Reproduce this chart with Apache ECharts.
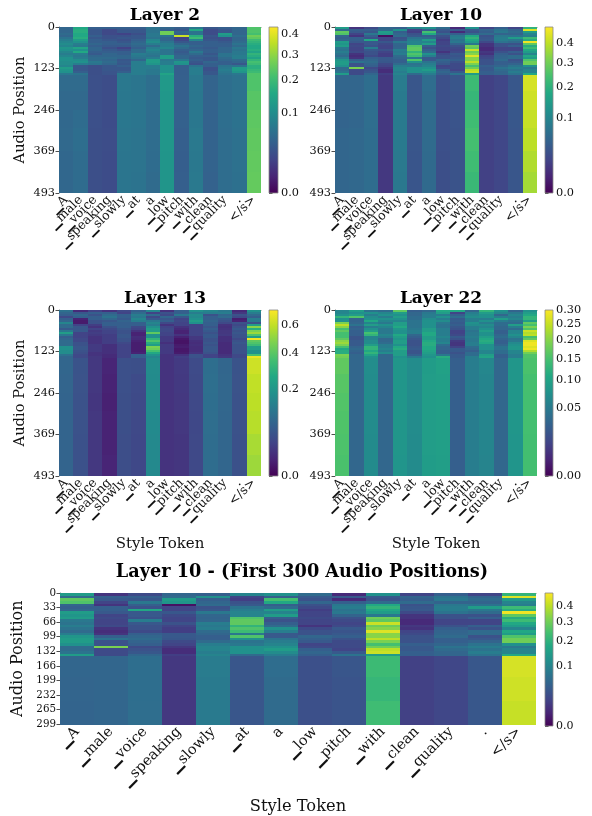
<!DOCTYPE html>
<html><head><meta charset="utf-8">
<style>html,body{margin:0;padding:0;background:#fff}#c{width:592px;height:816px}</style>
<script src="https://cdn.jsdelivr.net/npm/echarts@6/dist/echarts.min.js"></script>
</head><body><div id="c"></div>
<script>
const tokens = ['▁A','▁male','▁voice','▁speaking','▁slowly','▁at','a','▁low','▁pitch','▁with','▁clean','▁quality','.','</s>'];
// row band edges in audio positions; each matrix row spans rowEdges[i]..rowEdges[i+1]
const rowEdges = [0,6,12,18,24,30,36,42,48,54,60,66,72,78,84,90,96,102,108,114,120,126,132,138,144,190,246,300,369,430,493];
const layer2Values = [
[.047,.156,.039,.039,.039,.039,.063,.047,.039,.069,.032,.039,.047,.225],
[.047,.167,.032,.021,.032,.032,.063,.039,.032,.156,.023,.032,.047,.225],
[.047,.167,.032,.021,.032,.032,.063,.264,.047,.063,.023,.032,.047,.225],
[.053,.156,.032,.021,.017,.025,.069,.264,.039,.063,.023,.131,.047,.213],
[.047,.156,.039,.027,.027,.032,.069,.063,.367,.167,.032,.108,.056,.264],
[.063,.167,.032,.027,.032,.032,.063,.047,.017,.2,.027,.027,.047,.244],
[.077,.131,.039,.032,.027,.039,.088,.047,.021,.088,.032,.027,.047,.2],
[.088,.108,.039,.039,.032,.047,.1,.063,.032,.039,.039,.034,.053,.183],
[.1,.077,.047,.039,.039,.053,.077,.077,.047,.039,.039,.039,.063,.167],
[.088,.069,.039,.034,.034,.047,.053,.077,.063,.047,.039,.039,.053,.156],
[.117,.146,.047,.027,.017,.039,.077,.088,.053,.039,.034,.047,.069,.156],
[.108,.108,.047,.034,.027,.053,.088,.063,.039,.047,.039,.047,.063,.167],
[.088,.156,.039,.039,.039,.053,.077,.063,.034,.069,.039,.047,.069,.146],
[.077,.077,.034,.047,.039,.077,.069,.063,.039,.053,.032,.063,.069,.183],
[.088,.069,.047,.047,.047,.069,.063,.131,.047,.039,.039,.063,.077,.167],
[.108,.077,.053,.053,.047,.063,.077,.131,.047,.034,.032,.053,.077,.146],
[.108,.1,.053,.047,.032,.047,.131,.069,.069,.039,.032,.047,.053,.183],
[.1,.108,.069,.053,.034,.077,.131,.077,.117,.032,.047,.039,.047,.213],
[.1,.077,.063,.047,.032,.077,.117,.077,.108,.027,.039,.039,.032,.2],
[.088,.032,.025,.032,.039,.077,.077,.108,.039,.063,.039,.063,.063,.172],
[.131,.032,.025,.032,.032,.077,.077,.108,.039,.077,.027,.069,.131,.172],
[.117,.032,.025,.032,.032,.077,.069,.108,.039,.077,.027,.077,.131,.189],
[.108,.039,.025,.029,.039,.077,.069,.108,.039,.077,.032,.069,.117,.2],
[.069,.063,.025,.029,.069,.077,.069,.146,.039,.077,.032,.063,.069,.225],
[.052,.052,.026,.024,.07,.066,.056,.124,.04,.07,.044,.056,.061,.225],
[.05,.05,.026,.024,.068,.066,.056,.12,.04,.068,.044,.056,.061,.235],
[.049,.054,.026,.023,.068,.065,.055,.119,.041,.068,.043,.056,.062,.242],
[.05,.056,.025,.024,.067,.064,.055,.118,.039,.071,.043,.055,.06,.245],
[.048,.054,.025,.023,.066,.064,.054,.117,.038,.069,.043,.055,.06,.248],
[.048,.054,.025,.023,.066,.063,.053,.117,.039,.071,.042,.055,.059,.25]];
const layer10Values = [
[.148,.011,.024,.053,.044,.099,.122,.06,.007,.122,.02,.044,.02,.207],
[.06,.044,.044,.06,.122,.02,.044,.038,.038,.038,.05,.071,.05,.442],
[.276,.038,.036,.148,.044,.016,.24,.031,.007,.031,.044,.078,.06,.148],
[.254,.02,.078,.132,.053,.031,.176,.053,.044,.06,.06,.05,.05,.099],
[.053,.011,.044,.001,.06,.038,.044,.031,.078,.176,.031,.078,.071,.086],
[.044,.044,.031,.02,.031,.071,.06,.024,.086,.207,.036,.086,.148,.227],
[.053,.044,.176,.02,.036,.086,.148,.016,.071,.176,.038,.086,.078,.188],
[.148,.038,.038,.036,.078,.099,.099,.02,.078,.148,.024,.071,.06,.47],
[.132,.02,.038,.024,.053,.099,.148,.02,.05,.078,.011,.031,.031,.276],
[.148,.024,.031,.02,.05,.254,.044,.024,.031,.298,.011,.031,.044,.188],
[.078,.02,.086,.02,.053,.276,.031,.02,.024,.276,.007,.02,.02,.227],
[.071,.02,.038,.031,.086,.276,.044,.02,.02,.415,.007,.02,.02,.176],
[.086,.024,.031,.02,.078,.207,.06,.011,.024,.298,.013,.031,.044,.148],
[.071,.011,.031,.016,.086,.254,.122,.024,.038,.329,.01,.044,.031,.099],
[.06,.008,.024,.016,.06,.227,.086,.031,.033,.442,.02,.05,.06,.176],
[.086,.011,.044,.038,.053,.078,.038,.031,.038,.329,.024,.053,.06,.148],
[.132,.044,.053,.038,.044,.254,.038,.053,.044,.329,.031,.06,.031,.254],
[.148,.071,.06,.036,.044,.122,.071,.044,.031,.397,.031,.044,.038,.298],
[.148,.031,.05,.024,.06,.071,.086,.038,.024,.314,.031,.044,.05,.298],
[.122,.031,.044,.02,.086,.078,.099,.02,.024,.24,.044,.053,.071,.122],
[.06,.314,.024,.013,.099,.122,.122,.024,.024,.298,.038,.071,.086,.078],
[.06,.024,.031,.008,.099,.122,.148,.044,.02,.397,.038,.06,.071,.099],
[.071,.024,.036,.008,.086,.122,.113,.053,.038,.415,.044,.053,.086,.099],
[.148,.024,.053,.016,.099,.06,.086,.044,.071,.148,.044,.053,.071,.176],
[.053,.053,.064,.013,.084,.035,.062,.029,.035,.225,.018,.022,.036,.43],
[.051,.053,.064,.013,.082,.035,.06,.029,.033,.215,.018,.022,.036,.42],
[.05,.053,.063,.013,.082,.035,.06,.029,.033,.23,.018,.022,.036,.41],
[.053,.055,.062,.013,.081,.035,.059,.029,.032,.24,.018,.022,.035,.395],
[.053,.055,.062,.013,.08,.034,.058,.028,.032,.23,.018,.022,.035,.38],
[.053,.055,.062,.013,.079,.034,.058,.028,.032,.22,.018,.022,.035,.365]];
const layer13Values = [
[.1,.011,.029,.016,.035,.066,.148,.016,.066,.183,.148,.117,.011,.183],
[.079,.053,.066,.066,.029,.089,.029,.046,.066,.129,.129,.129,.019,.129],
[.066,.079,.046,.089,.066,.129,.089,.035,.117,.168,.046,.079,.046,.089],
[.035,.066,.066,.105,.066,.117,.035,.079,.053,.161,.066,.089,.035,.066],
[.066,.007,.066,.079,.057,.148,.057,.053,.029,.183,.066,.057,.005,.129],
[.079,.004,.046,.053,.075,.129,.117,.066,.035,.221,.075,.046,.007,.117],
[.148,.004,.046,.066,.066,.066,.148,.035,.029,.183,.066,.035,.046,.046],
[.089,.029,.024,.066,.066,.066,.129,.016,.029,.029,.066,.016,.035,.221],
[.089,.053,.016,.046,.066,.035,.183,.029,.016,.029,.053,.014,.046,.491],
[.057,.053,.029,.035,.053,.029,.221,.035,.011,.029,.066,.016,.057,.281],
[.117,.057,.021,.029,.046,.016,.221,.035,.007,.029,.057,.019,.046,.467],
[.221,.029,.024,.029,.046,.007,.411,.029,.007,.029,.046,.019,.053,.527],
[.117,.029,.021,.024,.053,.007,.183,.029,.016,.029,.057,.021,.046,.378],
[.066,.029,.016,.024,.053,.012,.183,.021,.007,.019,.057,.014,.046,.221],
[.079,.035,.016,.024,.046,.011,.308,.021,.003,.019,.046,.014,.035,.701],
[.089,.035,.016,.024,.046,.007,.378,.021,.002,.014,.046,.014,.046,.411],
[.089,.046,.016,.024,.035,.005,.281,.014,.002,.012,.053,.011,.053,.378],
[.089,.046,.021,.014,.029,.005,.221,.021,.004,.014,.046,.011,.046,.338],
[.183,.053,.021,.014,.029,.005,.467,.021,.005,.012,.053,.011,.046,.221],
[.183,.053,.021,.014,.029,.005,.444,.021,.003,.012,.053,.011,.046,.221],
[.168,.046,.021,.014,.029,.005,.358,.021,.003,.012,.053,.011,.046,.183],
[.168,.042,.016,.014,.029,.007,.263,.021,.004,.016,.046,.011,.046,.183],
[.1,.035,.016,.011,.029,.066,.183,.016,.016,.046,.029,.016,.035,.358],
[.079,.035,.019,.011,.029,.066,.148,.016,.024,.046,.029,.019,.035,.687],
[.078,.048,.019,.008,.044,.042,.168,.016,.021,.037,.095,.079,.048,.625],
[.076,.047,.019,.007,.043,.037,.166,.016,.02,.036,.096,.08,.047,.6],
[.075,.046,.018,.006,.042,.036,.165,.016,.019,.035,.095,.08,.046,.59],
[.075,.046,.019,.007,.042,.035,.163,.016,.019,.034,.094,.079,.046,.58],
[.074,.045,.019,.007,.041,.034,.161,.016,.018,.035,.093,.079,.045,.55],
[.074,.045,.019,.008,.041,.034,.16,.016,.018,.035,.093,.078,.045,.53]];
const layer22Values = [
[.061,.091,.043,.037,.169,.027,.033,.108,.108,.033,.127,.075,.031,.075],
[.061,.075,.075,.061,.091,.033,.048,.091,.012,.053,.091,.061,.048,.091],
[.075,.091,.053,.075,.075,.033,.053,.053,.027,.061,.075,.033,.061,.108],
[.127,.156,.069,.053,.091,.037,.053,.075,.037,.069,.075,.053,.053,.127],
[.075,.031,.075,.075,.075,.037,.069,.053,.024,.053,.053,.091,.061,.127],
[.075,.031,.108,.061,.061,.043,.075,.069,.027,.053,.075,.053,.043,.091],
[.192,.033,.061,.048,.091,.043,.075,.048,.024,.075,.053,.037,.037,.169],
[.243,.043,.091,.075,.091,.043,.075,.043,.027,.069,.069,.037,.091,.147],
[.202,.027,.053,.061,.108,.043,.075,.043,.022,.053,.061,.033,.053,.192],
[.147,.031,.075,.048,.081,.048,.091,.053,.019,.053,.075,.033,.037,.156],
[.169,.027,.091,.048,.075,.053,.091,.053,.012,.043,.091,.027,.061,.254],
[.147,.027,.147,.048,.075,.053,.108,.053,.012,.048,.075,.027,.061,.232],
[.147,.027,.127,.061,.108,.033,.108,.053,.015,.048,.075,.033,.075,.243],
[.147,.02,.061,.053,.091,.027,.091,.061,.024,.053,.091,.037,.061,.147],
[.169,.02,.061,.033,.081,.022,.091,.053,.019,.048,.108,.031,.043,.169],
[.202,.024,.069,.033,.091,.019,.108,.053,.009,.048,.115,.027,.048,.271],
[.217,.024,.069,.037,.091,.019,.115,.061,.007,.053,.108,.027,.066,.288],
[.192,.024,.091,.053,.075,.019,.115,.037,.007,.053,.075,.033,.075,.288],
[.147,.031,.127,.053,.108,.022,.108,.031,.012,.037,.075,.043,.081,.271],
[.108,.035,.127,.061,.115,.024,.108,.031,.024,.033,.075,.043,.081,.288],
[.115,.031,.108,.053,.091,.02,.101,.027,.024,.027,.061,.037,.061,.232],
[.115,.027,.127,.069,.091,.02,.091,.027,.019,.037,.061,.037,.061,.183],
[.192,.033,.101,.033,.091,.027,.081,.048,.024,.037,.091,.027,.053,.156],
[.183,.033,.075,.033,.075,.048,.075,.115,.024,.053,.101,.027,.053,.156],
[.17,.033,.07,.033,.081,.069,.09,.098,.027,.053,.063,.033,.081,.152],
[.162,.033,.069,.033,.081,.069,.091,.095,.027,.053,.061,.033,.081,.148],
[.158,.033,.069,.033,.081,.069,.091,.094,.027,.053,.061,.033,.081,.147],
[.156,.033,.069,.033,.081,.069,.091,.094,.027,.053,.061,.033,.081,.147],
[.154,.033,.068,.033,.081,.068,.091,.094,.027,.053,.061,.033,.08,.146],
[.152,.033,.068,.033,.08,.068,.09,.093,.027,.053,.06,.033,.08,.146]];
const viridisStops = ['#440154','#482475','#414487','#355f8d','#2a788e','#21918c','#22a884','#44bf70','#7ad151','#bddf26','#fde725'];
const layer2Ticks = [0,.1,.2,.3,.4];
const layer10Ticks = [0,.1,.2,.3,.4];
const layer13Ticks = [0,.2,.4,.6];
const layer22Ticks = [0,.05,.1,.15,.2,.25,.3];
const fullPositionTicks = [0,123,246,369,493];
const zoomPositionTicks = [0,33,66,99,132,166,199,232,265,299];

const FONT = '"DejaVu Serif"';
const panels = [
 {title:'Layer 2', values:layer2Values, vmax:.434, ticks:layer2Ticks, dec:1, maxPos:493, posTicks:fullPositionTicks,
  l:59,r:261,t:27,b:193, cl:269,cr:278, yName:true, xName:false, fs:11.3, xfs:12.6, cfs:11.3, tfs:17, ty:2},
 {title:'Layer 10', values:layer10Values, vmax:.49, ticks:layer10Ticks, dec:1, maxPos:493, posTicks:fullPositionTicks,
  l:335,r:537,t:27,b:193, cl:545,cr:553, yName:false, xName:false, fs:11.3, xfs:12.6, cfs:11.3, tfs:17, ty:2},
 {title:'Layer 13', values:layer13Values, vmax:.73, ticks:layer13Ticks, dec:1, maxPos:493, posTicks:fullPositionTicks,
  l:59,r:261,t:310,b:476, cl:269,cr:278, yName:true, xName:true, fs:11.3, xfs:12.6, cfs:11.3, tfs:17, ty:285},
 {title:'Layer 22', values:layer22Values, vmax:.30, ticks:layer22Ticks, dec:2, maxPos:493, posTicks:fullPositionTicks,
  l:335,r:537,t:310,b:476, cl:545,cr:553, yName:false, xName:true, fs:11.3, xfs:12.6, cfs:11.3, tfs:17, ty:285},
 {title:'Layer 10 - (First 300 Audio Positions)', values:layer10Values, vmax:.49, ticks:layer10Ticks, dec:1, maxPos:299, posTicks:zoomPositionTicks,
  l:60,r:536,t:593,b:726, cl:545,cr:553, yName:true, xName:true, fs:10.3, xfs:14.4, cfs:11, tfs:17.7, ty:558, wide:true}
];

function viridis(t){
  t=Math.max(0,Math.min(1,t))*10; const i=Math.min(9,Math.floor(t)), f=t-i;
  const h=s=>[1,3,5].map(k=>parseInt(s.substr(k,2),16));
  const a=h(viridisStops[i]), b=h(viridisStops[i+1]);
  return 'rgb('+a.map((c,k)=>Math.round(c+(b[k]-c)*f)).join(',')+')';
}
const option={animation:false,backgroundColor:'#fff',textStyle:{fontFamily:FONT},title:[],grid:[],xAxis:[],yAxis:[],series:[]};
const W=592,H=816;
panels.forEach((p,i)=>{
  const g=option.grid.length;
  option.title.push({text:p.title,left:p.wide?297:(p.l+p.r)/2,top:p.ty,textAlign:'center',
    textStyle:{fontFamily:FONT,fontWeight:'bold',fontSize:p.tfs,color:'#000'}});
  option.grid.push({left:p.l,right:W-p.r,top:p.t,bottom:H-p.b,containLabel:false});
  option.xAxis.push({type:'category',gridIndex:g,data:tokens,position:'bottom',
    boundaryGap:true,
    axisLine:{show:true,lineStyle:{color:'#555',width:.8}},
    axisTick:{alignWithLabel:true,length:3.5,lineStyle:{color:'#222',width:.8}},
    axisLabel:{interval:0,rotate:45,margin:5,fontFamily:FONT,fontSize:p.xfs,color:'#111'},
    name:p.xName?'Style Token':'',nameLocation:'middle',nameGap:p.wide?74.5:61,
    nameTextStyle:{fontFamily:FONT,fontSize:p.wide?16.3:15,color:'#111'}});
  option.yAxis.push({type:'value',gridIndex:g,inverse:true,min:0,max:p.maxPos,
    splitLine:{show:false},
    axisLine:{show:true,lineStyle:{color:'#555',width:.8}},
    axisTick:{show:true,length:3.5,customValues:p.posTicks,lineStyle:{color:'#222',width:.8}},
    axisLabel:{customValues:p.posTicks,margin:4,fontFamily:FONT,fontSize:p.fs,color:'#111',hideOverlap:false},
    name:p.yName?'Audio Position':'',nameLocation:'middle',nameRotate:90,nameGap:p.wide?30:31,
    nameTextStyle:{fontFamily:FONT,fontSize:p.wide?16:14.7,color:'#111'}});
  const cells=[];
  p.values.forEach((row,r)=>{
    const y0=rowEdges[r], y1=Math.min(rowEdges[r+1],p.maxPos);
    if(y0>=p.maxPos) return;
    row.forEach((v,c)=>cells.push([c,y0,y1,v]));
  });
  option.series.push({type:'custom',xAxisIndex:g,yAxisIndex:g,data:cells,
    encode:{x:0,y:[1,2]},silent:true,
    renderItem:(params,api)=>{
      const a=api.coord([api.value(0),api.value(1)]), b=api.coord([api.value(0),api.value(2)]), w=api.size([1,0])[0];
      const x0=Math.round(a[0]-w/2), x1=Math.round(a[0]+w/2), y0=Math.round(a[1]), y1=Math.round(b[1]);
      return {type:'rect',shape:{x:x0,y:y0,width:x1-x0,height:y1-y0},
        style:{fill:viridis(Math.sqrt(api.value(3)/p.vmax))}};
    }});
  // colourbar: its axis runs on the square-root (power norm) scale of the heat colours
  const cg=option.grid.length;
  option.grid.push({left:p.cl,right:W-p.cr,top:p.t,bottom:H-p.b});
  option.xAxis.push({type:'value',gridIndex:cg,min:0,max:1,show:false});
  const top=Math.sqrt(p.vmax), tickPos=p.ticks.map(Math.sqrt);
  option.yAxis.push({type:'value',gridIndex:cg,position:'right',min:0,max:top,splitLine:{show:false},
    axisLine:{show:false},
    axisTick:{show:true,length:3.5,customValues:tickPos,lineStyle:{color:'#222',width:.8}},
    axisLabel:{customValues:tickPos,margin:3,fontFamily:FONT,fontSize:p.cfs,color:'#111',
      formatter:v=>(v*v).toFixed(p.dec)}});
  option.series.push({type:'custom',xAxisIndex:cg,yAxisIndex:cg,data:[[0,1,0,top]],encode:{x:[0,1],y:[2,3]},silent:true,
    renderItem:(params,api)=>{
      const a=api.coord([api.value(0),api.value(3)]), b=api.coord([api.value(1),api.value(2)]);
      return {type:'rect',shape:{x:a[0],y:a[1],width:b[0]-a[0],height:b[1]-a[1]},
        style:{fill:new echarts.graphic.LinearGradient(0,1,0,0,viridisStops.map((c,k)=>({offset:k/10,color:c}))),stroke:'#888',lineWidth:.8}};
    }});
});
echarts.init(document.getElementById('c'),null,{renderer:'canvas'}).setOption(option);
</script></body></html>
